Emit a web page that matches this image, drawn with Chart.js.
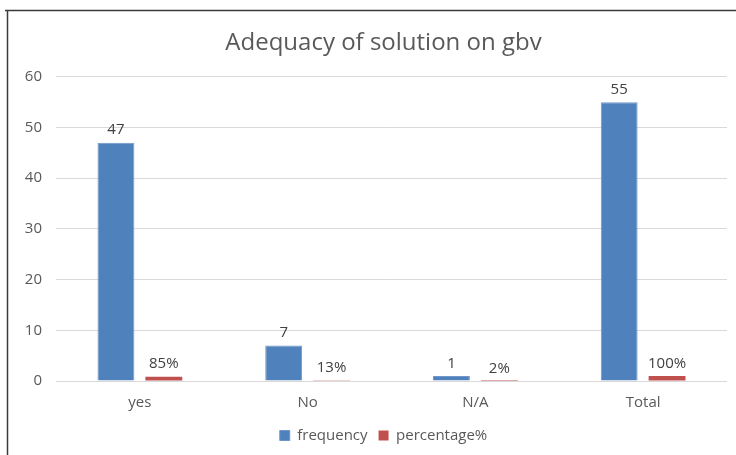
<!DOCTYPE html>
<html>
<head>
<meta charset="utf-8">
<script src="https://cdn.jsdelivr.net/npm/chart.js@4/dist/chart.umd.min.js"></script>
<style>
html,body{margin:0;padding:0;background:#fff;}
#wrap{width:736px;height:455px;position:relative;}
</style>
</head>
<body>
<div id="wrap"><canvas id="c" width="736" height="455"></canvas></div>
<script>
const categories = ["yes", "No", "N/A", "Total"];
const frequency = [47, 7, 1, 55];
const percentage = [0.85, 0.13, 0.02, 1.0];
const percentageLabels = ["85%", "13%", "2%", "100%"];
const yTicks = [0, 10, 20, 30, 40, 50, 60];

const FONT = "'Open Sans', 'Liberation Sans', sans-serif";
const TEXT = "#595959";

const borderPlugin = {
  id: 'frame',
  afterLayout(chart) {
    const shift = 20;
    if (chart.titleBlock) { chart.titleBlock.left += shift; chart.titleBlock.right += shift; }
    if (chart.legend) { chart.legend.left += shift; chart.legend.right += shift; }
  },
  beforeDraw(chart) {
    const ctx = chart.ctx;
    ctx.save();
    ctx.fillStyle = '#fff';
    ctx.fillRect(0, 0, chart.width, chart.height);
    ctx.strokeStyle = '#3a3a3a';
    ctx.lineWidth = 1.5;
    ctx.beginPath();
    ctx.moveTo(5, 10.5);
    ctx.lineTo(chart.width, 10.5);
    ctx.moveTo(7.5, 10);
    ctx.lineTo(7.5, chart.height);
    ctx.stroke();
    ctx.restore();
  }
};

const labelPlugin = {
  id: 'vals',
  afterDatasetsDraw(chart) {
    const ctx = chart.ctx;
    ctx.save();
    ctx.font = "15px " + FONT;
    ctx.fillStyle = "#404040";
    ctx.textAlign = 'center';
    ctx.textBaseline = 'bottom';
    chart.data.datasets.forEach((ds, di) => {
      const meta = chart.getDatasetMeta(di);
      meta.data.forEach((el, i) => {
        const txt = di === 0 ? String(frequency[i]) : percentageLabels[i];
        ctx.fillText(txt, el.x, el.y - 5);
      });
    });
    ctx.restore();
  }
};

new Chart(document.getElementById('c'), {
  type: 'bar',
  data: {
    labels: categories,
    datasets: [
      { label: 'frequency', data: frequency, backgroundColor: '#4F81BD', borderColor: '#6f97c9', borderWidth: 1 },
      { label: 'percentage%', data: percentage, backgroundColor: '#C0504D', borderWidth: 0 }
    ]
  },
  options: {
    responsive: false,
    animation: false,
    devicePixelRatio: 1,
    layout: { padding: { left: 0, right: 9, top: 20, bottom: 2 } },
    datasets: { bar: { categoryPercentage: 0.571, barPercentage: 0.77 } },
    plugins: {
      title: {
        display: true,
        text: 'Adequacy of solution on gbv',
        color: TEXT,
        font: { family: FONT, size: 24, weight: 'normal' },
        padding: { top: 9, bottom: 19 }
      },
      legend: {
        position: 'bottom',
        labels: {
          color: TEXT,
          font: { family: FONT, size: 15 },
          boxWidth: 10,
          boxHeight: 10,
          padding: 11
        }
      },
      tooltip: { enabled: false }
    },
    scales: {
      x: {
        grid: { display: false },
        border: { display: false },
        ticks: { color: TEXT, font: { family: FONT, size: 15 }, padding: 5 }
      },
      y: {
        min: 0, max: 60,
        afterBuildTicks(scale) { scale.ticks = yTicks.map(v => ({ value: v })); },
        afterFit(scale) { scale.width = 56; },
        grid: { color: '#d9d9d9', lineWidth: 1, drawTicks: false },
        border: { display: false },
        ticks: { color: TEXT, font: { family: FONT, size: 15 }, padding: 14 }
      }
    }
  },
  plugins: [borderPlugin, labelPlugin]
});
</script>
</body>
</html>
